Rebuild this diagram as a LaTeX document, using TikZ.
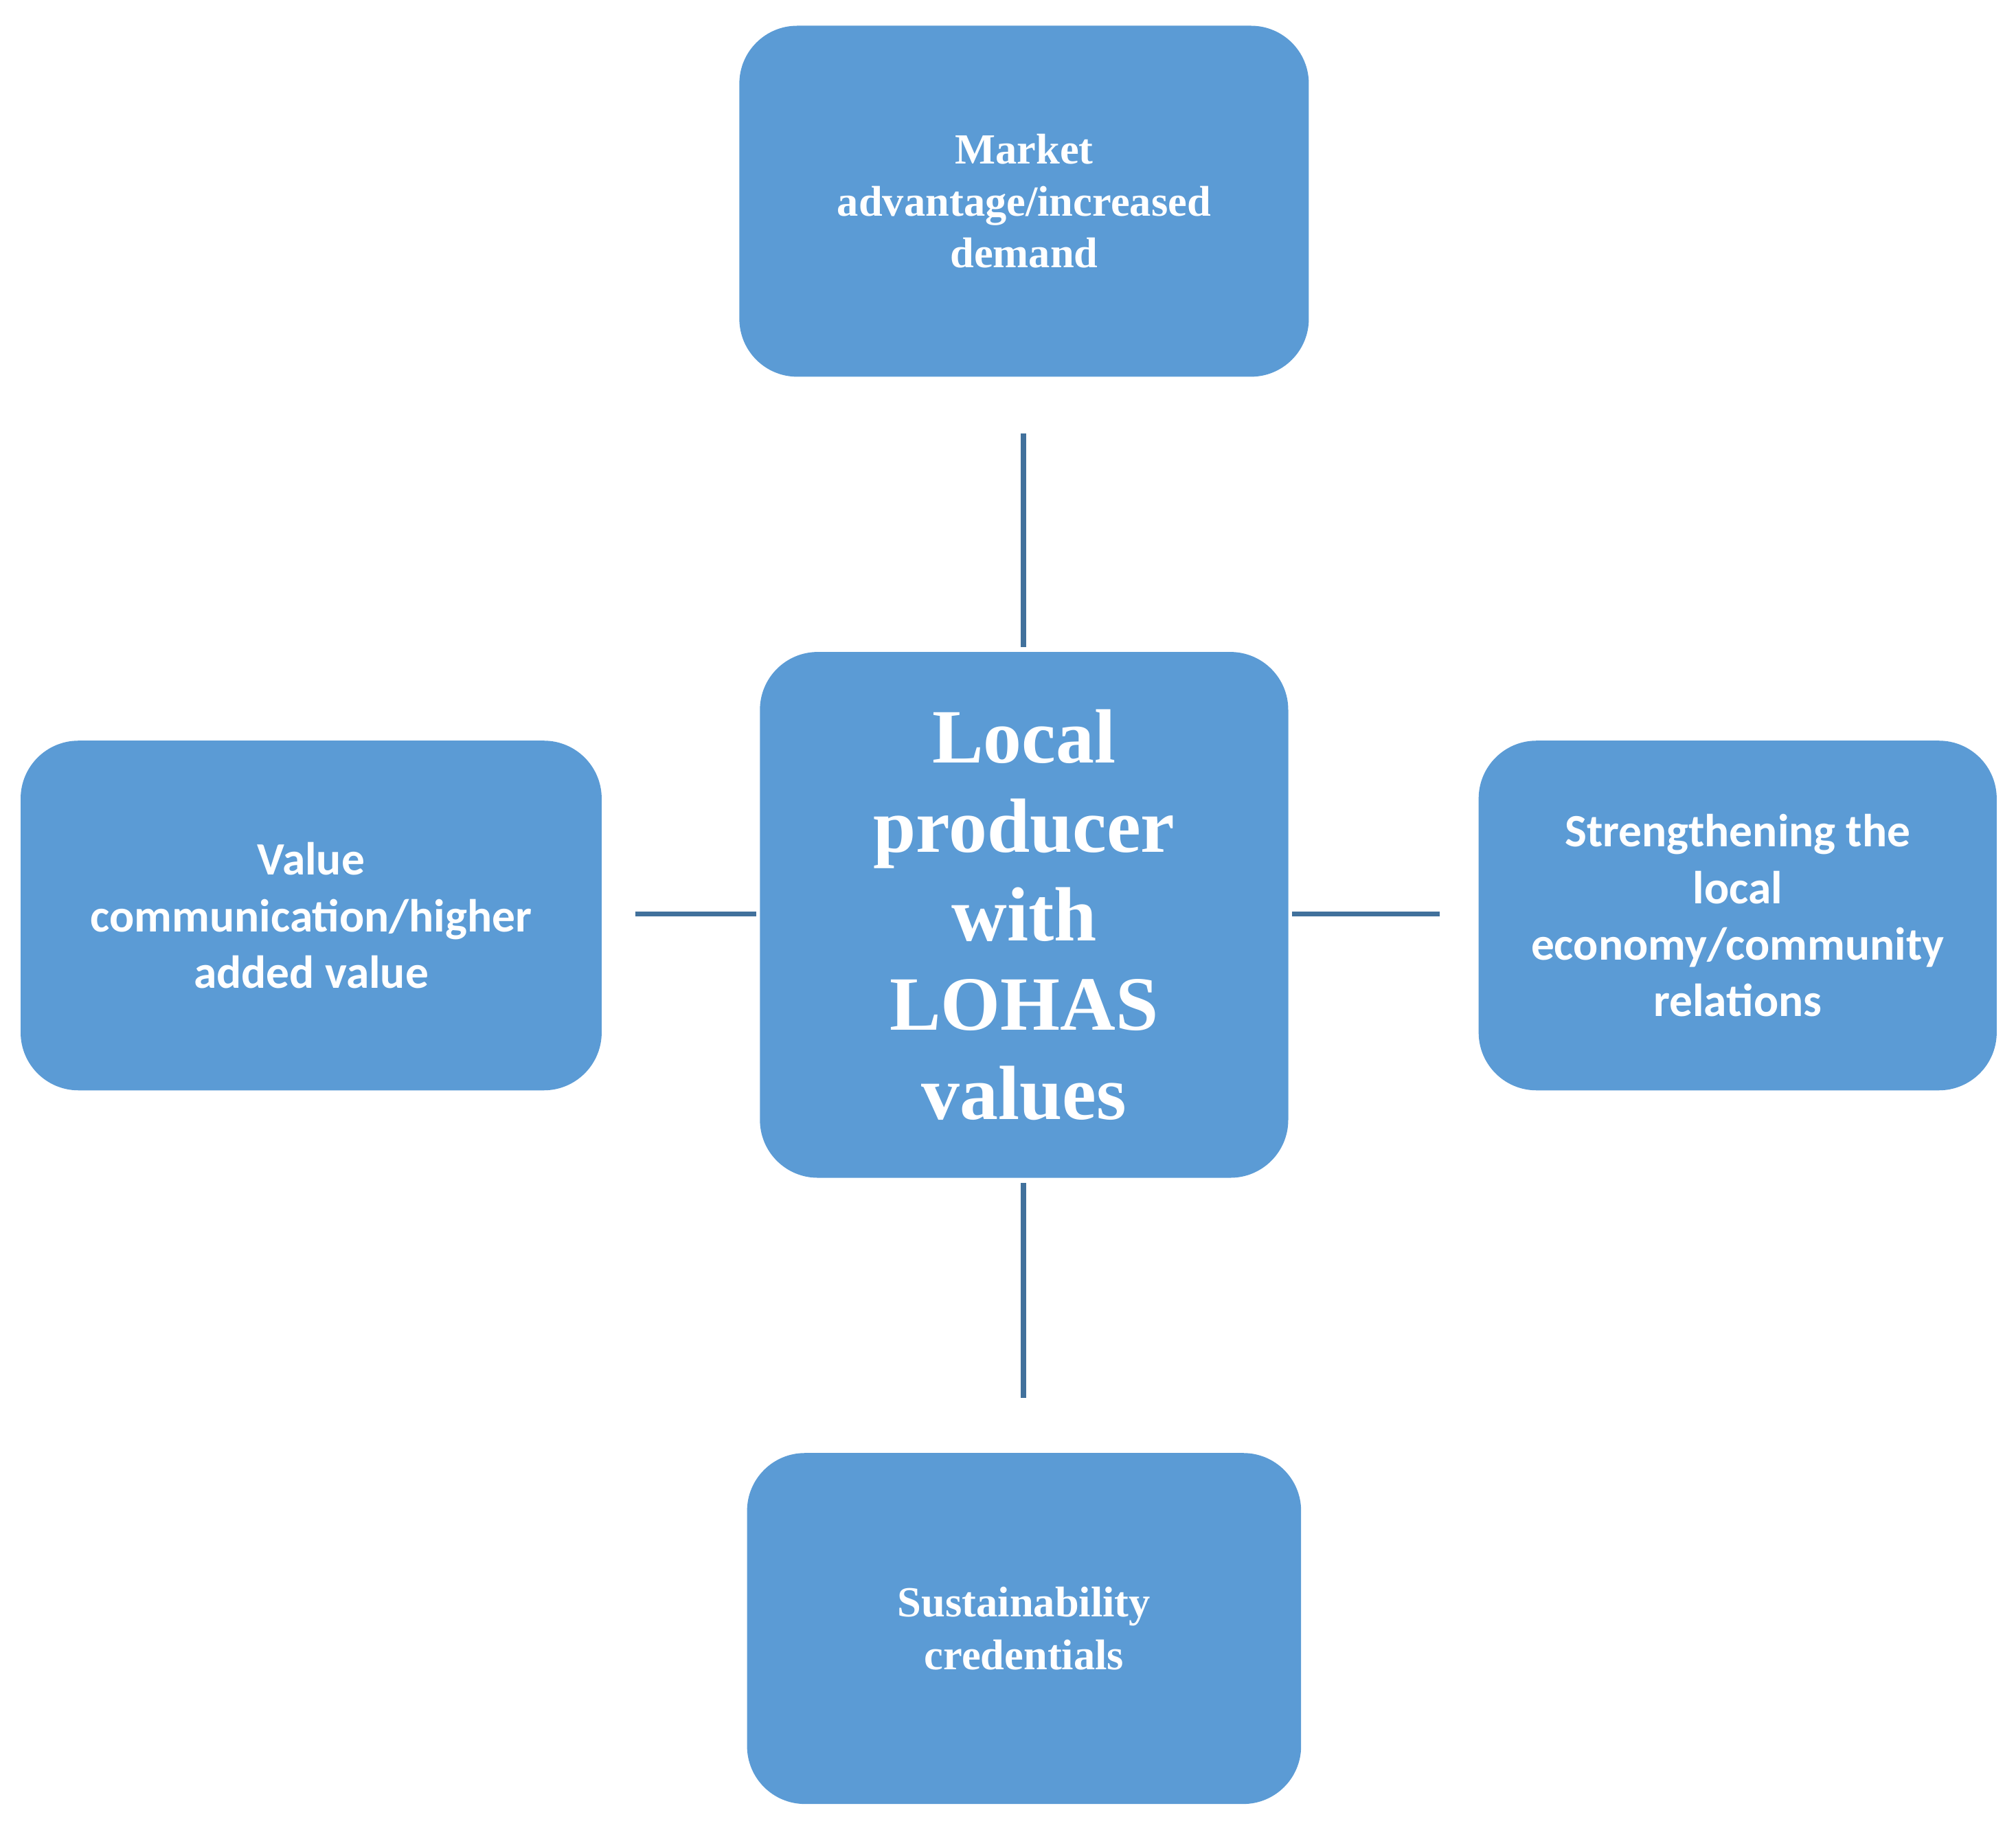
\documentclass[tikz,border=0pt]{standalone}
\usepackage{fontspec}
\setmainfont{Liberation Serif}
\newfontfamily\carlitofont{Carlito}
\begin{document}
\begin{tikzpicture}[x=0.02cm,y=-0.02cm,
box/.style={fill=boxblue,rounded corners=0.9cm,align=center,text=white,inner sep=0pt},
conn/.style={draw=lineblue,line width=2.2pt}]
\definecolor{boxblue}{HTML}{5B9BD5}
\definecolor{lineblue}{HTML}{41719C}
\useasboundingbox (0,0) rectangle (1568,1423);
\node[box,minimum width=8.86cm,minimum height=5.46cm,font=\bfseries\fontsize{19}{23}\selectfont] (top) at (796.5,156.5) {Market\\advantage/increased\\demand};
\node[box,minimum width=8.22cm,minimum height=8.18cm,font=\bfseries\fontsize{34}{39.5}\selectfont] (c) at (796.5,711.5) {Local\\producer\\with\\LOHAS\\values};
\node[box,minimum width=9.04cm,minimum height=5.44cm,font=\carlitofont\bfseries\fontsize{20.5}{25}\selectfont] (l) at (242,712) {Value\\communication/higher\\added value};
\node[box,minimum width=8.06cm,minimum height=5.44cm,font=\carlitofont\bfseries\fontsize{20.5}{25}\selectfont] (r) at (1351.5,712) {Strengthening the\\local\\economy/community\\relations};
\node[box,minimum width=8.62cm,minimum height=5.46cm,font=\bfseries\fontsize{19}{23.5}\selectfont] (b) at (796.5,1266.5) {Sustainability\\credentials};
\coordinate (t1) at (796,337); \coordinate (t2) at (796,503);
\coordinate (b1) at (796,920); \coordinate (b2) at (796,1087);
\coordinate (l1) at (494,711); \coordinate (l2) at (588,711);
\coordinate (r1) at (1005,711); \coordinate (r2) at (1120,711);
\draw[conn] (t1) -- (t2);
\draw[conn] (b1) -- (b2);
\draw[conn] (l1) -- (l2);
\draw[conn] (r1) -- (r2);
\end{tikzpicture}
\end{document}
